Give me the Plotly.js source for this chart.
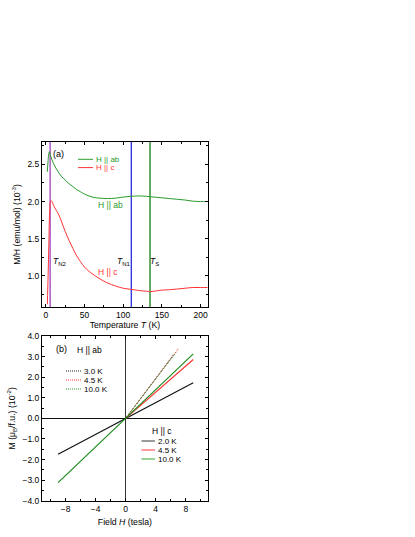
<!DOCTYPE html>
<html>
<head>
<meta charset="utf-8">
<script src="https://cdn.plot.ly/plotly-3.0.1.min.js"></script>
<style>
  body { margin: 0; background: #fff; }
  #plot { width: 415px; height: 537px; }
</style>
</head>
<body>
<div id="plot"></div>
<script>
// panel (a): M/H vs temperature
let t_ab = [2, 3, 4, 4.7, 6, 8, 10, 13, 16, 20, 25, 30, 35, 40, 45, 50, 60, 70, 80, 90, 100, 110, 120, 130, 140, 150, 160, 170, 180, 190, 200, 209]
let mh_ab = [2.40, 2.55, 2.65, 2.67, 2.62, 2.56, 2.51, 2.45, 2.40, 2.34, 2.29, 2.24, 2.20, 2.16, 2.13, 2.10, 2.06, 2.045, 2.04, 2.045, 2.06, 2.07, 2.075, 2.07, 2.06, 2.05, 2.04, 2.03, 2.02, 2.005, 2.0, 2.0]
let t_c = [2, 3, 4, 5, 6.5, 8, 10, 13, 16, 20, 25, 30, 35, 40, 45, 50, 55, 60, 70, 80, 90, 100, 110, 120, 130, 135, 140, 150, 160, 170, 180, 190, 200, 209]
let mh_c = [0.62, 1.0, 1.45, 1.85, 2.01, 2.0, 1.95, 1.89, 1.84, 1.74, 1.60, 1.48, 1.37, 1.27, 1.19, 1.12, 1.07, 1.03, 0.96, 0.905, 0.865, 0.835, 0.82, 0.805, 0.795, 0.79, 0.795, 0.81, 0.815, 0.825, 0.835, 0.845, 0.845, 0.845]
// transition temperatures
let t_marks = [5.6, 110.5, 134.7]
let t_names = ["<i>T</i><sub>N2</sub>", "<i>T</i><sub>N1</sub>", "<i>T</i><sub>S</sub>"]
let t_colors = ["#a23fc0", "#2b2bdc", "#137a13"]

// panel (b): M vs field
let h_c = [-9, 0, 9]
let m_c2 = [-1.74, 0, 1.73]
let m_c10 = [-3.12, 0, 3.13]
let h_c45 = [0, 9]
let m_c45 = [0, 2.86]
let h_ab3 = [0, 6.4]
let m_ab3 = [0, 3.1]
let h_ab45 = [0, 7.0]
let m_ab45 = [0, 3.38]
let h_ab10 = [0, 6.7]
let m_ab10 = [0, 3.2]
let ab_labels = ["3.0 K", "4.5 K", "10.0 K"]
let c_labels = ["2.0 K", "4.5 K", "10.0 K"]

let green = "#2a9a2a"
let red = "#ff3333"
let font = "Liberation Sans, Arial, sans-serif"

let traces = []
// vertical transition lines first (behind curves)
for (let i = 0; i < t_marks.length; i++) {
  traces.push({
    x: [t_marks[i], t_marks[i]], y: [0.5, 2.9],
    mode: "lines", line: {color: t_colors[i], width: 1.3},
    hoverinfo: "skip", xaxis: "x", yaxis: "y"
  })
}
traces.push({x: t_ab, y: mh_ab, mode: "lines", line: {color: green, width: 1, shape: "spline"}, xaxis: "x", yaxis: "y"})
traces.push({x: t_c, y: mh_c, mode: "lines", line: {color: red, width: 1, shape: "spline"}, xaxis: "x", yaxis: "y"})

// panel b, H || ab dotted
let dot = "1px,1px"
traces.push({x: h_ab3, y: m_ab3, mode: "lines", line: {color: "#222", width: 1, dash: dot}, xaxis: "x2", yaxis: "y2"})
traces.push({x: h_ab45, y: m_ab45, mode: "lines", line: {color: red, width: 1, dash: dot}, xaxis: "x2", yaxis: "y2"})
traces.push({x: h_ab10, y: m_ab10, mode: "lines", line: {color: green, width: 1, dash: dot}, xaxis: "x2", yaxis: "y2"})
// panel b, H || c solid
traces.push({x: h_c, y: m_c2, mode: "lines", line: {color: "#111", width: 1.2}, xaxis: "x2", yaxis: "y2"})
traces.push({x: h_c45, y: m_c45, mode: "lines", line: {color: red, width: 1.2}, xaxis: "x2", yaxis: "y2"})
traces.push({x: h_c, y: m_c10, mode: "lines", line: {color: "#1d8a1d", width: 1.2}, xaxis: "x2", yaxis: "y2"})

let ax = {
  showline: true, linecolor: "#000", linewidth: 1, mirror: "allticks",
  ticks: "inside", ticklen: 3, tickcolor: "#000", showgrid: false, zeroline: false,
  tickfont: {family: font, size: 8.5, color: "#000"}, automargin: false
}

// pixel -> paper helpers for the hand made legends
let px = (x) => x / 415
let py = (y) => 1 - y / 537

let annos = [
  {text: "(a)", x: 16, y: 2.64, xref: "x", yref: "y", showarrow: false, font: {family: font, size: 9}},
  {text: "H || ab", x: 83, y: 1.96, xref: "x", yref: "y", showarrow: false, font: {family: font, size: 8.5, color: green}},
  {text: "H || c", x: 80, y: 1.05, xref: "x", yref: "y", showarrow: false, font: {family: font, size: 8.5, color: red}},
  {text: "(b)", x: -8.6, y: 3.35, xref: "x2", yref: "y2", showarrow: false, font: {family: font, size: 9}}
]
let tx = [18, 101, 141]
for (let i = 0; i < t_names.length; i++) {
  annos.push({text: t_names[i], x: tx[i], y: 1.19, xref: "x", yref: "y", showarrow: false, font: {family: font, size: 8.5, color: "#000"}})
}

let shapes = []
function legendRow(x0, x1, y, color, dash, width, label, labelColor) {
  shapes.push({type: "line", xref: "paper", yref: "paper", x0: px(x0), x1: px(x1), y0: py(y), y1: py(y),
    line: {color: color, width: width, dash: dash}})
  annos.push({text: label, x: px(x1 + 1.5), y: py(y), xref: "paper", yref: "paper", xanchor: "left", yanchor: "middle",
    showarrow: false, borderpad: 0, font: {family: font, size: 8, color: labelColor}})
}
// panel a legend
legendRow(78, 93, 159.3, green, "solid", 1, "H || ab", green)
legendRow(78, 93, 167.6, red, "solid", 1, "H || c", red)
// panel b, H || ab legend
annos.push({text: "H || ab", x: px(75), y: py(350), xref: "paper", yref: "paper", xanchor: "left", yanchor: "middle", showarrow: false, font: {family: font, size: 8.5}})
let ab_colors = ["#222", red, green]
for (let i = 0; i < ab_labels.length; i++) {
  legendRow(66, 81.5, 371 + i * 9, ab_colors[i], dot, 1, ab_labels[i], "#000")
}
// panel b, H || c legend
annos.push({text: "H || c", x: px(150), y: py(431), xref: "paper", yref: "paper", xanchor: "left", yanchor: "middle", showarrow: false, font: {family: font, size: 8.5}})
let c_colors = ["#9a9a9a", "#ff9a9a", "#9ad09a"]
for (let i = 0; i < c_labels.length; i++) {
  legendRow(141.5, 155, 441 + i * 9, c_colors[i], "solid", 2, c_labels[i], "#000")
}

let layout = {
  width: 415, height: 537,
  margin: {l: 0, r: 0, t: 0, b: 0},
  paper_bgcolor: "#fff", plot_bgcolor: "#fff",
  font: {family: font, size: 8.5, color: "#000"},
  showlegend: false,
  xaxis: Object.assign({}, ax, {domain: [0.101, 0.501], range: [-5, 209.5], dtick: 50, tick0: 0,
    minor: {ticks: "inside", ticklen: 2, dtick: 25, tickcolor: "#000"},
    title: {text: "Temperature <i>T</i> (K)", font: {family: font, size: 8.7}, standoff: 1}, anchor: "y"}),
  yaxis: Object.assign({}, ax, {domain: [0.4283, 0.7356], range: [0.583, 2.80], dtick: 0.5, tick0: 0, tickformat: ".1f",
    minor: {ticks: "inside", ticklen: 2, dtick: 0.25, tickcolor: "#000"},
    title: {text: "M/H (emu/mol) (10<sup>-3</sup>)", font: {family: font, size: 8.7}, standoff: 5}, anchor: "x"}),
  xaxis2: Object.assign({}, ax, {domain: [0.101, 0.501], range: [-11.15, 10.95], dtick: 4, tick0: 0,
    minor: {ticks: "inside", ticklen: 2, dtick: 2, tickcolor: "#000"},
    zeroline: true, zerolinecolor: "#333", zerolinewidth: 1.2,
    title: {text: "Field <i>H</i> (tesla)", font: {family: font, size: 8.7}, standoff: 6}, anchor: "y2"}),
  yaxis2: Object.assign({}, ax, {domain: [0.0676, 0.3743], range: [-4, 4], dtick: 1, tick0: 0, tickformat: ".1f",
    minor: {ticks: "inside", ticklen: 2, dtick: 0.5, tickcolor: "#000"},
    zeroline: true, zerolinecolor: "#111", zerolinewidth: 1.2,
    title: {text: "M (μ<sub>B</sub>/f.u.) (10<sup>-2</sup>)", font: {family: font, size: 8.7}, standoff: 5}, anchor: "x2"}),
  annotations: annos,
  shapes: shapes
}

Plotly.newPlot("plot", traces, layout, {staticPlot: true})
</script>
</body>
</html>
